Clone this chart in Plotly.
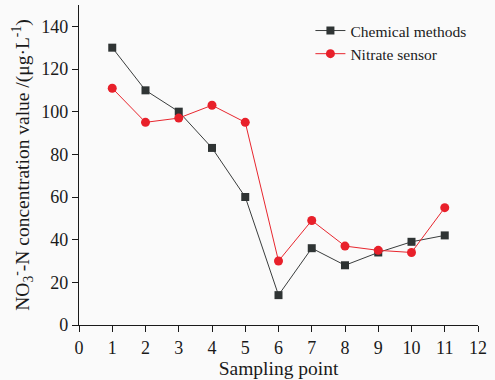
import plotly.graph_objects as go

sampling_points = [1, 2, 3, 4, 5, 6, 7, 8, 9, 10, 11]
chemical_methods = [130, 110, 100, 83, 60, 14, 36, 28, 34, 39, 42]
nitrate_sensor = [111, 95, 97, 103, 95, 30, 49, 37, 35, 34, 55]
x_ticks = list(range(0, 13))
y_ticks = list(range(0, 141, 20))

font_family = "Liberation Serif, Times New Roman, serif"

fig = go.Figure()
fig.add_trace(go.Scatter(
    x=sampling_points, y=chemical_methods, name="Chemical methods",
    mode="lines+markers",
    line=dict(color="#3a3d3d", width=1),
    marker=dict(symbol="square", size=8, color="#2f3434"),
))
fig.add_trace(go.Scatter(
    x=sampling_points, y=nitrate_sensor, name="Nitrate sensor",
    mode="lines+markers",
    line=dict(color="#e8262e", width=1),
    marker=dict(symbol="circle", size=9, color="#e8202a"),
))

fig.update_layout(
    width=495, height=380,
    margin=dict(l=79, r=17, t=5, b=55),
    paper_bgcolor="#fafafa", plot_bgcolor="#fafafa",
    font=dict(family=font_family, color="#1a1a1a", size=18),
    showlegend=True,
    legend=dict(
        x=0.58, y=0.972, xanchor="left", yanchor="top",
        bgcolor="rgba(0,0,0,0)", font=dict(size=15.5, family=font_family),
        tracegroupgap=0, itemwidth=30,
    ),
    xaxis=dict(
        range=[0, 12], tickvals=x_ticks, showgrid=False, zeroline=False,
        showline=True, linecolor="#1a1a1a", linewidth=1.3,
        ticks="outside", ticklen=6, tickcolor="#1a1a1a", tickwidth=1.3,
        tickfont=dict(size=18),
        title=dict(text="Sampling point", font=dict(size=19.5), standoff=3),
    ),
    yaxis=dict(
        range=[0, 150], tickvals=y_ticks, showgrid=False, zeroline=False,
        showline=True, linecolor="#1a1a1a", linewidth=1.3,
        ticks="outside", ticklen=6, tickcolor="#1a1a1a", tickwidth=1.3,
        tickfont=dict(size=18),
        title=dict(text="NO<sub>3</sub><sup>-</sup>-N concentration value /(μg·L<sup>-1</sup>)",
                   font=dict(size=19.5), standoff=6),
    ),
)

fig.write_html("out.html")
